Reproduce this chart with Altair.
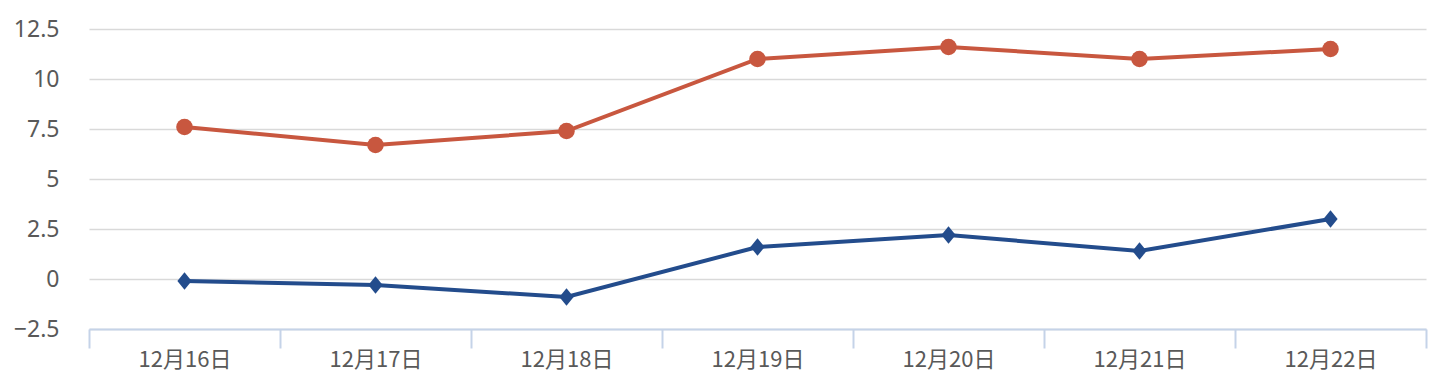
import altair as alt
import pandas as pd

dates = ["12月16日", "12月17日", "12月18日", "12月19日", "12月20日", "12月21日", "12月22日"]
red_values = [7.6, 6.7, 7.4, 11.0, 11.6, 11.0, 11.5]
blue_values = [-0.1, -0.3, -0.9, 1.6, 2.2, 1.4, 3.0]
y_ticks = [-2.5, 0, 2.5, 5, 7.5, 10, 12.5]

df = pd.DataFrame({
    "date": dates * 2,
    "value": red_values + blue_values,
    "series": ["red"] * len(dates) + ["blue"] * len(dates),
})

RED = "#C8573F"
BLUE = "#234C8C"

x = alt.X("date:N", sort=dates, title=None, bandPosition=0.5,
          scale=alt.Scale(type="band", paddingInner=0, paddingOuter=0),
          axis=alt.Axis(labelAngle=0, tickBand="extent", domainColor="#C5D3E8",
                        domainWidth=2, tickColor="#C5D3E8", tickWidth=2, tickSize=19,
                        labelPadding=1, labelFontSize=22, labelColor="#595959",
                        labelFont="Noto Sans CJK SC", grid=False))
y = alt.Y("value:Q", title=None,
          scale=alt.Scale(domain=[-2.5, 12.5], nice=False, zero=False),
          axis=alt.Axis(values=y_ticks, format=".1~f", domain=False, ticks=False,
                        labelPadding=30, labelFontSize=23, labelColor="#595959",
                        labelFont="Noto Sans", gridColor="#D9D9D9", gridWidth=1.5))
color = alt.Color("series:N", scale=alt.Scale(domain=["red", "blue"], range=[RED, BLUE]), legend=None)

base = alt.Chart(df)
lines = base.mark_line(strokeWidth=4).encode(x=x, y=y, color=color, detail="series:N")
red_pts = base.transform_filter(alt.datum.series == "red").mark_point(
    shape="circle", filled=True, size=275, opacity=1, color=RED).encode(x=x, y=y)
blue_pts = base.transform_filter(alt.datum.series == "blue").mark_point(
    shape="M-0.9,0L0,-1.1L0.9,0L0,1.1Z", filled=True, size=250, opacity=1, color=BLUE).encode(x=x, y=y)

chart = alt.layer(lines, red_pts, blue_pts).properties(
    width=1337, height=300,
    background="white",
    autosize=alt.AutoSizeParams(type="none"),
    padding={"left": 89, "top": 29, "right": 9, "bottom": 53},
).configure_view(stroke=None)

chart.save("out.html", embed_options={"renderer": "svg", "actions": False})
